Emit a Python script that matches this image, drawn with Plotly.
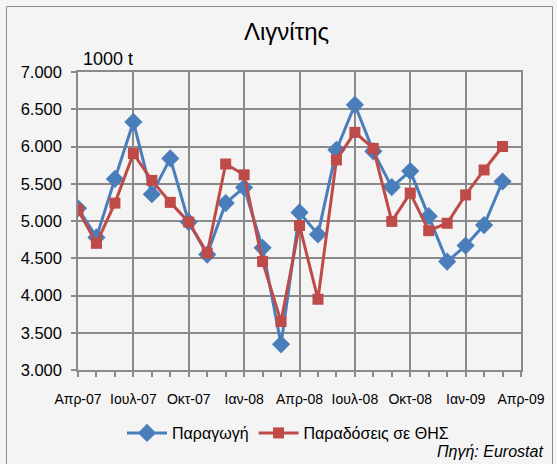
import plotly.graph_objects as go

months = ["Απρ-07", "Μαϊ-07", "Ιουν-07", "Ιουλ-07", "Αυγ-07", "Σεπ-07", "Οκτ-07", "Νοε-07",
          "Δεκ-07", "Ιαν-08", "Φεβ-08", "Μαρ-08", "Απρ-08", "Μαϊ-08", "Ιουν-08", "Ιουλ-08",
          "Αυγ-08", "Σεπ-08", "Οκτ-08", "Νοε-08", "Δεκ-08", "Ιαν-09", "Φεβ-09", "Μαρ-09"]
production = [5170, 4780, 5565, 6330, 5360, 5840, 4985, 4550, 5240, 5450, 4640, 3345,
              5115, 4820, 5955, 6560, 5935, 5455, 5670, 5065, 4455, 4670, 4945, 5530]
deliveries = [5150, 4700, 5240, 5905, 5545, 5250, 4985, 4570, 5765, 5620, 4455, 3650,
              4940, 3950, 5820, 6190, 5975, 4995, 5375, 4870, 4970, 5350, 5685, 6000]
tick_labels = ["Απρ-07", "Ιουλ-07", "Οκτ-07", "Ιαν-08", "Απρ-08", "Ιουλ-08", "Οκτ-08", "Ιαν-09", "Απρ-09"]

x_idx = list(range(len(months)))
tick_pos = [i * 3 for i in range(len(tick_labels))]

FONT = "Liberation Sans"
GRID = "#8a8a8a"
BG = "#f4f4f4"
L, R, T, B = 78, 36, 72, 94
PW, PH = 557 - L - R, 464 - T - B


def px(x):
    return (x - L) / PW


def py(y):
    return 1 - (y - T) / PH


fig = go.Figure()
fig.add_trace(go.Scatter(
    x=x_idx, y=production, name="Παραγωγή", mode="lines+markers",
    line=dict(color="#4a7ebb", width=3),
    marker=dict(symbol="diamond", size=14, color="#4a7ebb"),
    customdata=months,
))
fig.add_trace(go.Scatter(
    x=x_idx, y=deliveries, name="Παραδόσεις σε ΘΗΣ", mode="lines+markers",
    line=dict(color="#be4b48", width=3),
    marker=dict(symbol="square", size=11, color="#be4b48"),
    customdata=months,
))

fig.update_layout(
    width=557, height=464,
    margin=dict(l=L, r=R, t=T, b=B),
    paper_bgcolor=BG, plot_bgcolor=BG,
    separators=",.",
    font=dict(family=FONT, size=14, color="#000000"),
    showlegend=True,
    legend=dict(orientation="h", x=px(288), xanchor="center", y=py(433), yanchor="middle",
                font=dict(size=16), bgcolor="rgba(0,0,0,0)", itemwidth=40,
                tracegroupgap=0),
    xaxis=dict(
        range=[0, 24], tickmode="array", tickvals=tick_pos, ticktext=tick_labels,
        showgrid=True, gridcolor=GRID, gridwidth=1.5,
        showline=True, linecolor=GRID, linewidth=1.5, mirror=True,
        ticks="outside", ticklen=5, tickcolor=GRID, tickwidth=1.5,
        minor=dict(dtick=1, tick0=0, ticks="outside", ticklen=5, tickcolor=GRID, showgrid=False),
        tickangle=0, zeroline=False, ticklabelstandoff=10, tickfont=dict(size=14),
    ),
    yaxis=dict(
        range=[3000, 7000], dtick=500, tickformat=",d",
        showgrid=True, gridcolor=GRID, gridwidth=1.5,
        showline=True, linecolor=GRID, linewidth=1.5, mirror=True,
        ticks="outside", ticklen=5, tickcolor=GRID, tickwidth=1.5, zeroline=False,
        tickfont=dict(size=16.5), ticklabelstandoff=6,
    ),
    annotations=[
        dict(text="Λιγνίτης", xref="paper", yref="paper", x=px(286), y=py(32),
             xanchor="center", yanchor="middle", showarrow=False, font=dict(size=24)),
        dict(text="1000 t", xref="paper", yref="paper", x=px(81), y=py(59),
             xanchor="left", yanchor="middle", showarrow=False, font=dict(size=18)),
        dict(text="<i>Πηγή: Eurostat</i>", xref="paper", yref="paper", x=px(545),
             y=py(451), xanchor="right", yanchor="middle", showarrow=False,
             font=dict(size=16)),
    ],
    shapes=[
        dict(type="rect", xref="paper", yref="paper",
             x0=px(6.5), x1=px(552.5), y0=py(470), y1=py(6.5),
             line=dict(color="#8a8a8a", width=1), fillcolor="rgba(0,0,0,0)", layer="below"),
    ],
)

fig.write_html("out.html", config={"displayModeBar": False},
               post_script="document.body.style.margin='0';document.body.style.overflow='hidden';")
